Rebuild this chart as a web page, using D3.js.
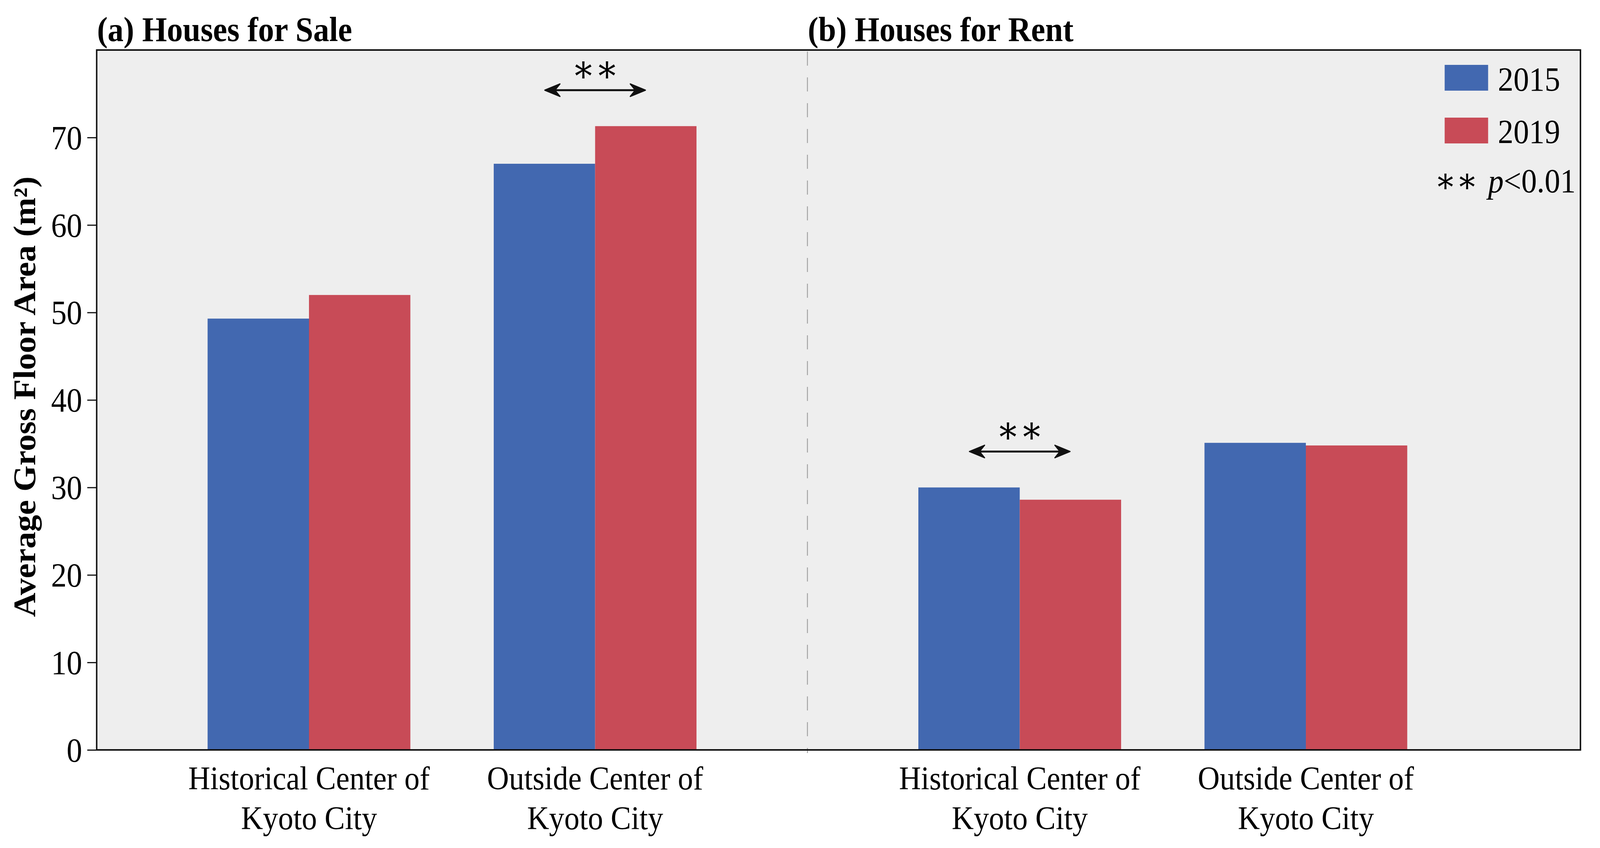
<!DOCTYPE html>
<html>
<head>
<meta charset="utf-8">
<title>Average Gross Floor Area</title>
<script src="https://cdn.jsdelivr.net/npm/d3@7"></script>
<style>
  html, body { margin: 0; padding: 0; overflow: hidden; background: #fff; }
  svg { display: block; }
  text { font-family: "Liberation Serif", "DejaVu Serif", serif; fill: #000; }
</style>
</head>
<body>
<svg id="chart"></svg>
<script>
// data
var panels = ["(a) Houses for Sale", "(b) Houses for Rent"];
var categories = ["Historical Center of Kyoto City", "Outside Center of Kyoto City"];
var categoryLines = [["Historical Center of", "Kyoto City"], ["Outside Center of", "Kyoto City"]];
var years = ["2015", "2019"];
var sale2015 = [49.3, 67.0];
var sale2019 = [52.0, 71.3];
var rent2015 = [30.0, 35.1];
var rent2019 = [28.6, 34.8];
var yTicks = [0, 10, 20, 30, 40, 50, 60, 70];
// significance marks (** p<0.01): panel index, category index
var sigPanel = [0, 1];
var sigCategory = [1, 0];

var colors = { "2015": "#4268b0", "2019": "#c84b57" };

var W = 4419, H = 2170;
var pL = 267, pT = 128, pR = 4365, pB = 1919;
var mid = 2230;

// drawn in a 4419x2170 coordinate space, stretched over the whole window
var svg = d3.select("#chart")
  .attr("viewBox", "0 0 " + W + " " + H)
  .attr("preserveAspectRatio", "none")
  .attr("width", window.innerWidth || W)
  .attr("height", window.innerHeight || H);

var y = d3.scaleLinear().domain([0, 80]).range([pB, pT]);

// one point scale per panel, same width for both (panel b leaves room for the legend)
var panelW = mid - pL;
var xPanel = [
  d3.scalePoint().domain(categories).range([pL, mid]).padding(0.742),
  d3.scalePoint().domain(categories).range([mid, mid + panelW]).padding(0.742)
];
var xYear = d3.scaleBand().domain(years).range([-280, 280]);

var values = [[sale2015, sale2019], [rent2015, rent2019]];

// table of bars built from the arrays
var bars = [];
panels.forEach(function(p, pi) {
  categories.forEach(function(c, ci) {
    years.forEach(function(yr, yi) {
      bars.push({ panel: pi, cat: c, year: yr, value: values[pi][yi][ci] });
    });
  });
});

// plot background
svg.append("rect")
  .attr("x", pL).attr("y", pT)
  .attr("width", pR - pL).attr("height", pB - pT)
  .attr("fill", "#eeeeee");

// panel divider
svg.append("line")
  .attr("x1", mid).attr("x2", mid)
  .attr("y1", pT + 4).attr("y2", pB + 8)
  .attr("stroke", "#a0a0a0")
  .attr("stroke-width", 2.5)
  .attr("stroke-dasharray", "36,30");

// bars
svg.append("g").selectAll("rect")
  .data(bars)
  .join("rect")
  .attr("x", function(d) { return xPanel[d.panel](d.cat) + xYear(d.year); })
  .attr("y", function(d) { return y(d.value); })
  .attr("width", xYear.bandwidth())
  .attr("height", function(d) { return y(0) - y(d.value); })
  .attr("fill", function(d) { return colors[d.year]; });

// frame
svg.append("rect")
  .attr("x", pL).attr("y", pT)
  .attr("width", pR - pL).attr("height", pB - pT)
  .attr("fill", "none")
  .attr("stroke", "#111")
  .attr("stroke-width", 4);

// y axis
var yAxis = svg.append("g")
  .attr("transform", "translate(" + pL + ",0)")
  .call(d3.axisLeft(y).tickValues(yTicks).tickSize(26).tickPadding(14));
yAxis.select(".domain").remove();
yAxis.selectAll(".tick line").attr("stroke", "#111").attr("stroke-width", 3);
yAxis.selectAll(".tick text")
  .attr("font-size", 86)
  .attr("font-family", "Liberation Serif")
  .attr("fill", "#000")
  .attr("dy", "0.34em");

// y label
svg.append("text")
  .attr("transform", "translate(97," + 1015 + ") rotate(-90)")
  .attr("text-anchor", "middle")
  .attr("font-size", 86)
  .attr("font-weight", "bold")
  .text("Average Gross Floor Area (m²)");

// panel titles
svg.selectAll(".ptitle")
  .data(panels)
  .join("text")
  .attr("class", "ptitle")
  .attr("x", function(d, i) { return i === 0 ? pL + 1 : mid + 1; })
  .attr("y", 105)
  .attr("font-size", 88)
  .attr("font-weight", "bold")
  .text(function(d) { return d; });

// category labels
panels.forEach(function(p, pi) {
  var g = svg.append("g");
  categories.forEach(function(c, ci) {
    var t = g.append("text")
      .attr("text-anchor", "middle")
      .attr("font-size", 84);
    categoryLines[ci].forEach(function(line, li) {
      t.append("tspan")
        .attr("x", xPanel[pi](c))
        .attr("y", 2020 + li * 102)
        .text(line);
    });
  });
});

// significance arrows
function headPath(xt, yy, dir) {
  // barbed head pointing in direction dir (-1 left, +1 right)
  var L = 42, h = 16, b = 14;
  return "M" + xt + "," + yy +
         "L" + (xt - dir * L) + "," + (yy - h) +
         "L" + (xt - dir * (L - b)) + "," + yy +
         "L" + (xt - dir * L) + "," + (yy + h) + "Z";
}
sigPanel.forEach(function(pi, k) {
  var c = categories[sigCategory[k]];
  var cx = xPanel[pi](c);
  var top2 = d3.max(values[pi], function(s) { return s[sigCategory[k]]; });
  var ay = y(top2) - 92;
  var g = svg.append("g");
  g.append("line")
    .attr("x1", cx - 120).attr("x2", cx + 120)
    .attr("y1", ay).attr("y2", ay)
    .attr("stroke", "#111").attr("stroke-width", 5);
  g.selectAll("path")
    .data([-1, 1])
    .join("path")
    .attr("d", function(dir) { return headPath(cx + dir * 139, ay, dir); })
    .attr("fill", "#111")
    .attr("stroke", "#111")
    .attr("stroke-width", 3)
    .attr("stroke-linejoin", "round");
  g.append("text")
    .attr("x", cx).attr("y", ay - 22)
    .attr("text-anchor", "middle")
    .attr("font-size", 96)
    .attr("font-family", "DejaVu Serif")
    .text("\u2217\u2217");
});

// legend
var leg = svg.append("g");
years.forEach(function(yr, i) {
  leg.append("rect")
    .attr("x", 3990).attr("y", 166 + i * 135)
    .attr("width", 120).attr("height", 66)
    .attr("fill", colors[yr]);
  leg.append("text")
    .attr("x", 4137).attr("y", 232 + i * 134)
    .attr("font-size", 86)
    .text(yr);
});
var pt = leg.append("text")
  .attr("x", 4352).attr("y", 492)
  .attr("text-anchor", "end")
  .attr("font-size", 86);
pt.append("tspan").attr("font-family", "DejaVu Serif").attr("font-size", 88).text("\u2217\u2217 ");
pt.append("tspan").attr("font-style", "italic").text("p");
pt.append("tspan").text("<0.01");
</script>
</body>
</html>
